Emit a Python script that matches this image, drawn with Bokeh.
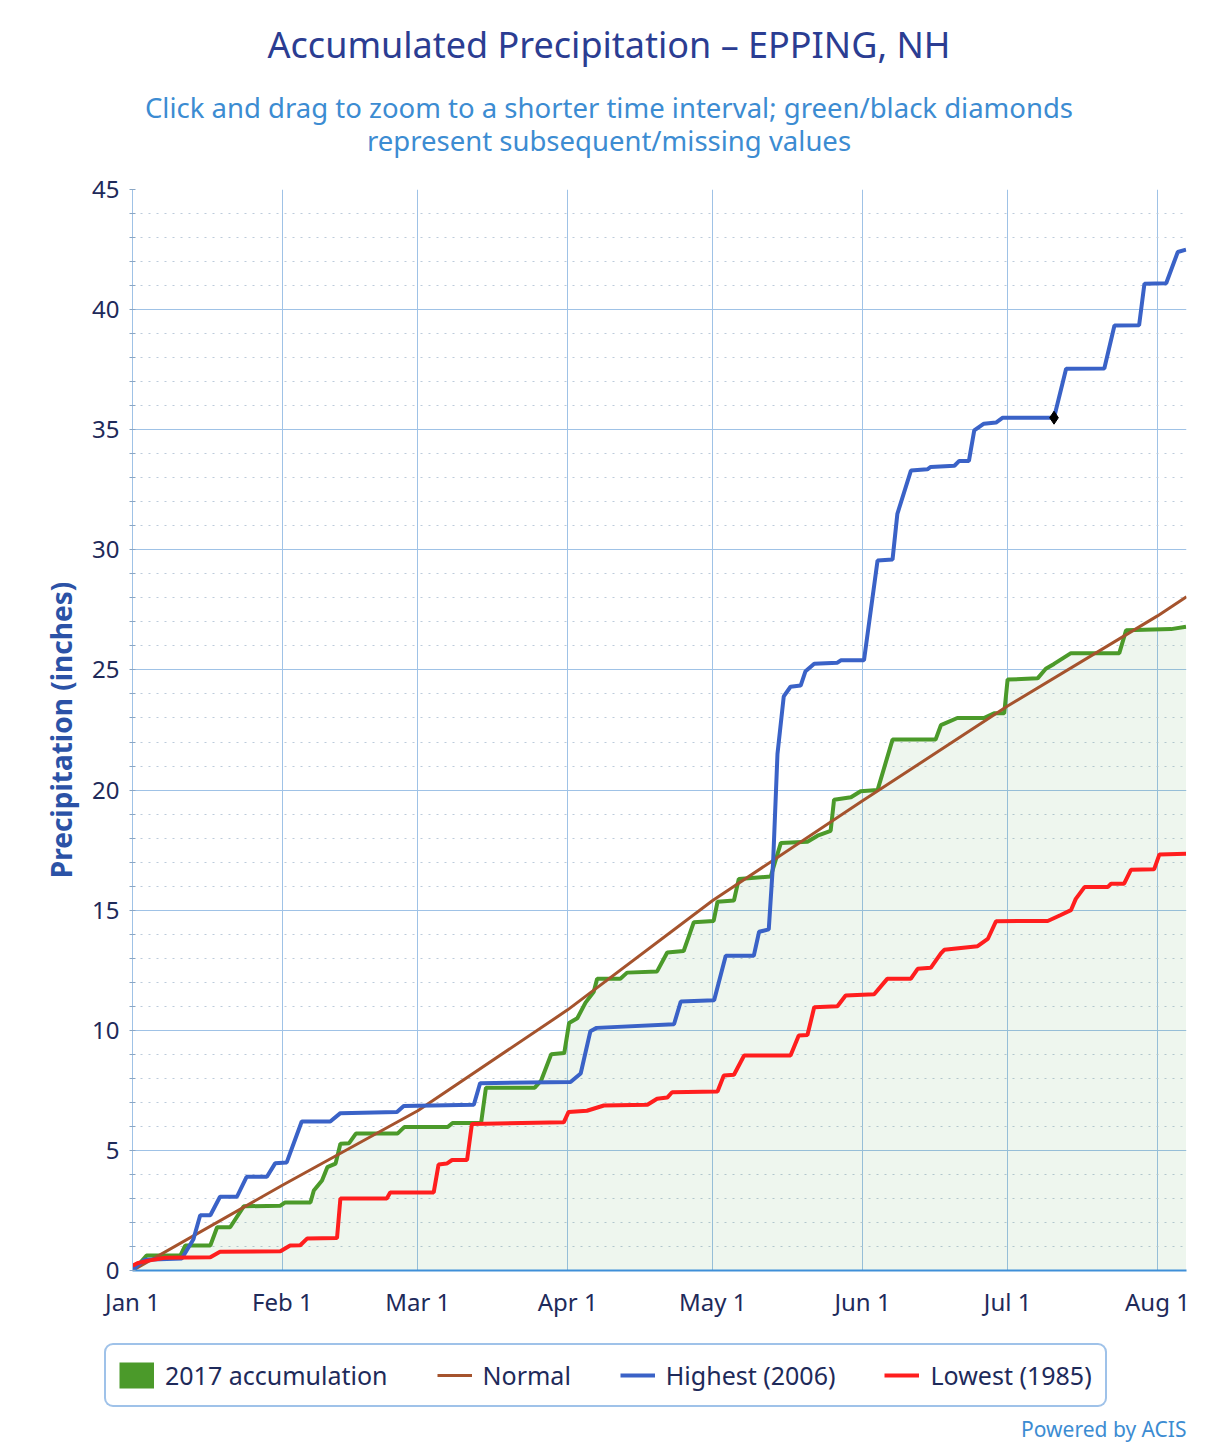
from bokeh.plotting import figure
from bokeh.layouts import column
from bokeh.models import (FixedTicker, SingleIntervalTicker, Legend, LegendItem, Range1d)
from bokeh.core.properties import value
from bokeh.embed import file_html
from bokeh.resources import INLINE

# ---------------- data ----------------
month_days = [0, 31, 59, 90, 120, 151, 181, 212]
month_labels = ["Jan 1", "Feb 1", "Mar 1", "Apr 1", "May 1", "Jun 1", "Jul 1", "Aug 1"]

# 2017 accumulation (day of year from Jan 1, inches)
acc2017_day = [0, 1.5, 2.9, 9.9, 10.9, 16.1, 17.5, 20.2, 23.0, 30.6, 31.5, 36.8, 37.5, 39.2,
               40.3, 42.0, 43.0, 44.8, 46.2, 54.8, 56.2, 65.2, 66.2, 72.1, 73.1, 83.2, 84.5,
               86.6, 89.3, 90.3, 92.0, 93.7, 95.4, 96.1, 100.9, 102.3, 108.5, 110.6, 114.0,
               116.1, 120.2, 121.0, 124.4, 125.4, 132.0, 134.1, 139.6, 141.7, 144.4, 145.1,
               148.6, 150.6, 154.1, 157.2, 166.1, 167.2, 170.6, 176.1, 178.2, 180.3, 181.0,
               187.2, 188.9, 190.6, 194.1, 204.1, 205.5, 214.8, 217.9]
acc2017_val = [0.0, 0.3, 0.62, 0.62, 1.04, 1.04, 1.8, 1.8, 2.67, 2.7, 2.83, 2.83, 3.33, 3.75,
               4.3, 4.45, 5.28, 5.3, 5.7, 5.7, 5.97, 5.97, 6.14, 6.14, 7.61, 7.61, 7.9,
               9.0, 9.05, 10.3, 10.5, 11.15, 11.6, 12.15, 12.15, 12.4, 12.45, 13.24, 13.3,
               14.5, 14.55, 15.35, 15.4, 16.3, 16.4, 17.8, 17.85, 18.1, 18.3, 19.6,
               19.7, 19.95, 20.0, 22.1, 22.1, 22.7, 23.0, 23.0, 23.2, 23.2, 24.6,
               24.65, 25.05, 25.25, 25.7, 25.7, 26.65, 26.7, 26.8]

# Normal
normal_day = [0, 31, 59, 90, 120, 151, 181, 212, 218]
normal_val = [0.0, 3.55, 6.65, 10.85, 15.4, 19.55, 23.5, 27.25, 28.05]

# Highest (2006)
high_day = [0, 1.0, 2.5, 10.2, 12.6, 14.0, 16.1, 18.1, 21.6, 23.6, 27.8, 29.5, 31.9, 35.0,
            40.9, 43.0, 54.7, 56.1, 70.6, 71.9, 90.6, 92.7, 94.7, 96.0, 112.0, 113.4, 120.3,
            122.7, 128.5, 129.6, 131.6, 132.5, 133.4, 134.7, 136.1, 138.2, 139.2, 141.0,
            145.8, 146.5, 151.3, 154.1, 157.2, 158.2, 161.0, 164.4, 165.1, 170.0, 171.0,
            173.0, 174.1, 176.1, 178.6, 180.0, 190.6, 193.1, 201.0, 203.1, 208.2, 209.3,
            213.8, 216.2, 217.9]
high_val = [0.0, 0.2, 0.45, 0.5, 1.3, 2.3, 2.3, 3.07, 3.07, 3.9, 3.9, 4.46, 4.5, 6.2,
            6.2, 6.55, 6.6, 6.85, 6.9, 7.8, 7.85, 8.2, 9.96, 10.1, 10.25, 11.2, 11.25,
            13.1, 13.1, 14.1, 14.2, 17.0, 21.5, 23.9, 24.3, 24.35, 24.95, 25.26,
            25.3, 25.4, 25.4, 29.56, 29.6, 31.5, 33.3, 33.35, 33.45, 33.5, 33.7,
            33.7, 34.97, 35.25, 35.3, 35.5, 35.5, 37.54, 37.55, 39.34, 39.35, 41.08,
            41.1, 42.4, 42.5]

# Lowest (1985)
low_day = [0, 1.0, 3.0, 6.7, 16.1, 18.1, 30.6, 32.6, 34.7, 36.1, 42.3, 43.0, 52.6, 53.3,
           62.3, 63.3, 65.0, 66.1, 69.2, 70.2, 89.2, 90.2, 94.0, 97.5, 106.5, 108.5, 110.6,
           111.6, 121.0, 122.3, 124.4, 126.5, 136.1, 137.8, 139.6, 141.0, 145.8, 147.5,
           153.4, 156.1, 161.0, 162.4, 165.1, 167.2, 167.9, 174.8, 176.9, 178.6, 189.3,
           192.0, 194.1, 195.1, 196.9, 201.7, 202.4, 205.1, 206.5, 211.3, 212.4, 217.9]
low_val = [0.2, 0.3, 0.4, 0.53, 0.55, 0.78, 0.8, 1.04, 1.05, 1.33, 1.35, 3.0, 3.0, 3.25,
           3.25, 4.41, 4.45, 4.6, 4.6, 6.1, 6.17, 6.6, 6.65, 6.87, 6.9, 7.15, 7.2,
           7.42, 7.45, 8.12, 8.15, 8.95, 8.95, 9.78, 9.8, 10.96, 11.0, 11.45,
           11.5, 12.14, 12.15, 12.56, 12.6, 13.2, 13.35, 13.5, 13.8, 14.54, 14.55,
           14.8, 15.0, 15.47, 15.96, 15.96, 16.1, 16.1, 16.68, 16.7, 17.32, 17.35]

# missing value marker on the 2006 series
missing_day = [190.6]
missing_val = [35.5]

title_text = "Accumulated Precipitation \u2013 EPPING, NH"
subtitle_lines = ["Click and drag to zoom to a shorter time interval; green/black diamonds",
                  "represent subsequent/missing values"]
legend_labels = ["2017 accumulation", "Normal", "Highest (2006)", "Lowest (1985)"]
credit_text = "Powered by ACIS"

# ---------------- styling ----------------
FONT = "Noto Sans"
GREEN = "#4b9a2a"
BROWN = "#a5532d"
BLUE = "#3a62c7"
RED = "#ff1e1e"
NAVY = "#1e2a5a"
GRID = "#9fc2e6"
LIGHTBLUE = "#3c8cd2"
W = 1206
HDR_H = 170
FTR_H = 114
MAIN_H = 1444 - HDR_H - FTR_H
LEFT, RIGHT = 132, 20

# ---------------- header (title + subtitle) ----------------
hdr = figure(width=W, height=HDR_H, x_range=Range1d(LEFT, W - RIGHT), y_range=Range1d(HDR_H, 0),
             output_backend="svg", toolbar_location=None, title=None,
             x_axis_location=None, y_axis_location=None,
             min_border=0, min_border_left=LEFT, min_border_right=RIGHT,
             min_border_top=0, min_border_bottom=0)
hdr.grid.visible = False
hdr.outline_line_color = None
hdr.background_fill_color = "white"
hdr.border_fill_color = "white"
hdr.text(x=[608.5], y=[44], text=[title_text], text_align="center", text_baseline="middle",
         text_font=value(FONT), text_font_size="36px", text_color="#2b3d92")
hdr.text(x=[608.5, 608.5], y=[107, 140], text=subtitle_lines, text_align="center",
         text_baseline="middle", text_font=value(FONT), text_font_size="27.5px",
         text_color=LIGHTBLUE)

# ---------------- main chart ----------------
p = figure(width=W, height=MAIN_H, x_range=(0, 218), y_range=(0, 45),
           output_backend="svg", toolbar_location=None, title=None,
           min_border_left=LEFT, min_border_right=RIGHT, min_border_top=19,
           min_border_bottom=MAIN_H - 19 - 1081)
p.outline_line_color = None
p.background_fill_color = "white"
p.border_fill_color = "white"

p.xaxis.ticker = FixedTicker(ticks=month_days)
p.xaxis.major_label_overrides = {d: l for d, l in zip(month_days, month_labels)}
p.xaxis.major_label_text_font = FONT
p.xaxis.major_label_text_font_size = "24px"
p.xaxis.major_label_text_color = NAVY
p.xaxis.major_label_standoff = 14
p.xaxis.major_tick_out = 0
p.xaxis.major_tick_in = 0
p.xaxis.minor_tick_out = 0
p.xaxis.axis_line_color = "#3f8fd8"
p.xaxis.axis_line_width = 2

p.yaxis.ticker = SingleIntervalTicker(interval=5, num_minor_ticks=5)
p.yaxis.major_label_text_font = FONT
p.yaxis.major_label_text_font_size = "24px"
p.yaxis.major_label_text_color = NAVY
p.yaxis.major_label_standoff = 10
p.yaxis.major_tick_out = 0
p.yaxis.major_tick_in = 0
p.yaxis.minor_tick_out = 3
p.yaxis.minor_tick_in = 3
p.yaxis.minor_tick_line_color = "#8aa6c4"
p.yaxis.axis_line_color = GRID
p.yaxis.axis_label = "Precipitation (inches)"
p.yaxis.axis_label_text_font = FONT
p.yaxis.axis_label_text_font_size = "28px"
p.yaxis.axis_label_text_font_style = "bold"
p.yaxis.axis_label_text_color = "#2b52a6"
p.yaxis.axis_label_standoff = 9

p.xgrid.ticker = FixedTicker(ticks=month_days)
p.xgrid.grid_line_color = GRID
p.ygrid.grid_line_color = GRID
p.ygrid.minor_grid_line_color = "#bccbdb"
p.ygrid.minor_grid_line_dash = "2 6"

p.varea(x=acc2017_day, y1=0, y2=acc2017_val, fill_color="#3f9a3f", fill_alpha=0.09)
p.line(acc2017_day, acc2017_val, line_color=GREEN, line_width=4)
p.line(normal_day, normal_val, line_color=BROWN, line_width=3)
p.line(high_day, high_val, line_color=BLUE, line_width=4)
p.line(low_day, low_val, line_color=RED, line_width=4)
p.scatter(missing_day, missing_val, marker="diamond", size=13, color="black")

# ---------------- footer (legend + credit) ----------------
ftr_kw = dict(width=W, height=FTR_H, x_range=Range1d(0, W), y_range=Range1d(FTR_H, 0),
              output_backend="svg", toolbar_location=None, title=None,
              x_axis_location=None, y_axis_location=None,
              min_border=0, min_border_left=0, min_border_right=0,
              min_border_top=0, min_border_bottom=0)
try:
    ftr = figure(frame_align=False, **ftr_kw)
    legend_x = 104
except Exception:
    ftr = figure(**ftr_kw)
    legend_x = 0
ftr.grid.visible = False
ftr.outline_line_color = None
ftr.background_fill_color = "white"
ftr.border_fill_color = "white"

nan = float("nan")
sw_acc = ftr.line(x=[nan], y=[nan], line_color=GREEN, line_width=26)
sw_norm = ftr.line(x=[nan], y=[nan], line_color=BROWN, line_width=3)
sw_high = ftr.line(x=[nan], y=[nan], line_color=BLUE, line_width=4)
sw_low = ftr.line(x=[nan], y=[nan], line_color=RED, line_width=4)

legend_kw = dict(items=[LegendItem(label=lab, renderers=[r]) for lab, r in
                        zip(legend_labels, [sw_acc, sw_norm, sw_high, sw_low])],
                 orientation="horizontal", location=(legend_x, 37),
                 glyph_width=35, glyph_height=34, label_height=34, label_standoff=11,
                 spacing=49, padding=13, margin=0,
                 label_text_font=FONT, label_text_font_size="25px", label_text_color=NAVY,
                 border_line_color="#3f86d4", border_line_width=2,
                 background_fill_color="white", background_fill_alpha=1.0)
try:
    legend = Legend(border_radius=9, **legend_kw)
except Exception:
    legend = Legend(**legend_kw)
ftr.add_layout(legend)

ftr.text(x=[1186], y=[98], text=[credit_text], text_align="right", text_baseline="middle",
         text_font=value(FONT), text_font_size="21px", text_color=LIGHTBLUE)

layout = column(hdr, p, ftr, spacing=0)
open("out.html", "w").write(file_html(layout, INLINE))
